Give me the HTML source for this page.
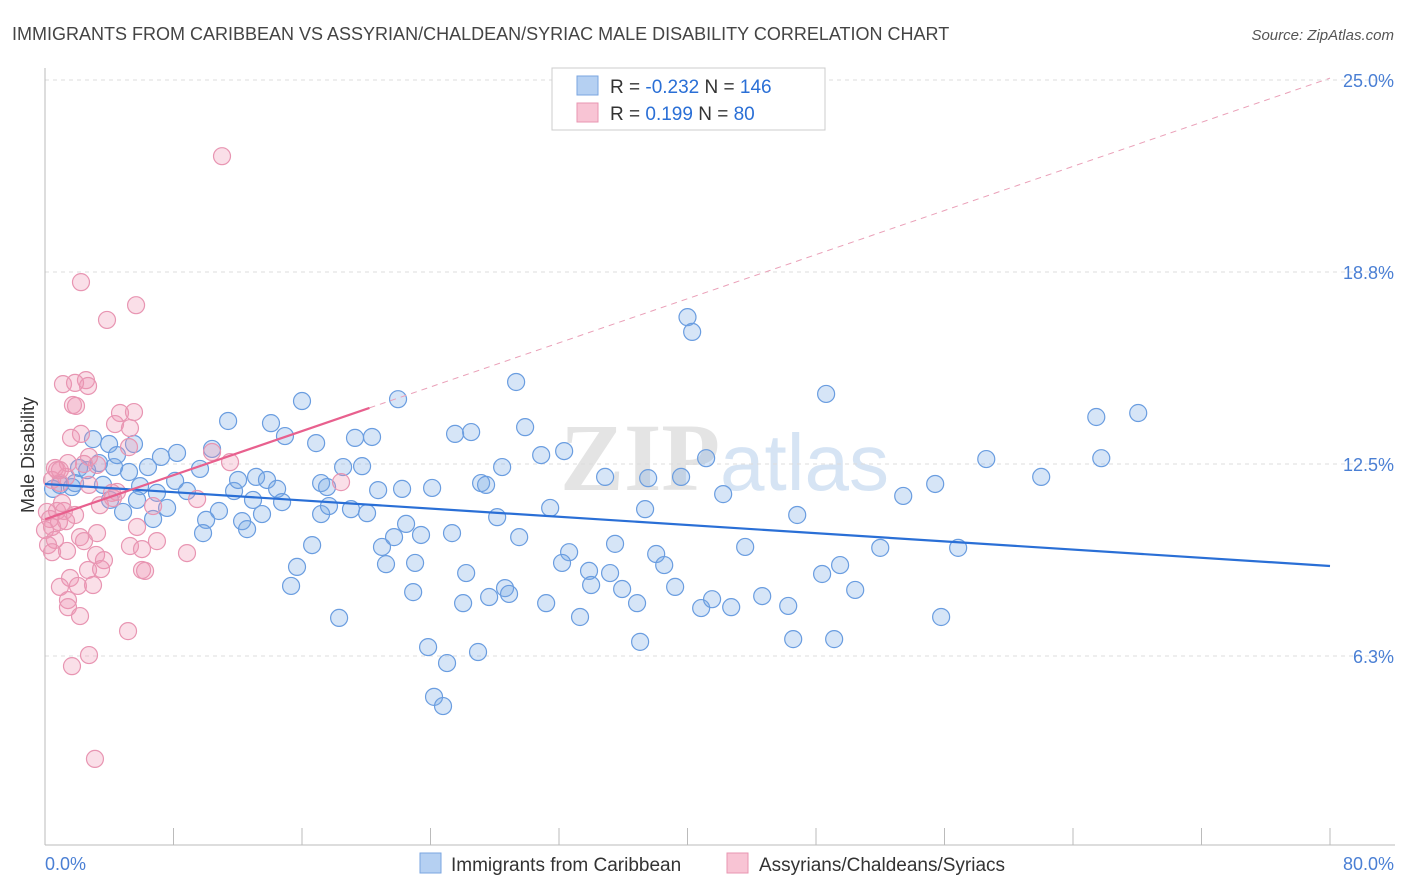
<!DOCTYPE html>
<html><head><meta charset="utf-8">
<style>
body{margin:0;background:#fff;font-family:"Liberation Sans",sans-serif;}
#wrap{position:relative;width:1406px;height:892px;overflow:hidden;}
</style></head>
<body>
<div id="wrap">
<svg id="chart" width="1406" height="892" xmlns="http://www.w3.org/2000/svg">
<text x="12" y="40" font-size="18" fill="#444">IMMIGRANTS FROM CARIBBEAN VS ASSYRIAN/CHALDEAN/SYRIAC MALE DISABILITY CORRELATION CHART</text>
<text x="1394" y="40" font-size="15" fill="#555" text-anchor="end" font-style="italic">Source: ZipAtlas.com</text>
<text x="720" y="490" font-size="96" fill="#e4e4e4" text-anchor="end" font-family="Liberation Serif" font-weight="bold">ZIP</text>
<text x="720" y="490" font-size="80" fill="#d6e4f4">atlas</text>
<g id="grid"></g>
<g id="axes"></g>
<g id="pts"></g>
<g id="lines"></g>
<text x="34" y="455" font-size="18" fill="#333" text-anchor="middle" transform="rotate(-90 34 455)">Male Disability</text>
<text x="45" y="870" font-size="18" fill="#4a7fd4">0.0%</text>
<text x="1394" y="870" font-size="18" fill="#4a7fd4" text-anchor="end">80.0%</text>
<g>
<rect x="552" y="68" width="273" height="62" fill="#fff" stroke="#ccc"/>
<rect x="577" y="76" width="21" height="19" fill="#b5d0f2" stroke="#7aa6e0"/>
<rect x="577" y="103" width="21" height="19" fill="#f8c4d4" stroke="#e896b2"/>
<text x="610" y="93" font-size="19" fill="#333">R = <tspan fill="#2a6fd6">-0.232</tspan>   N = <tspan fill="#2a6fd6">146</tspan></text>
<text x="610" y="120" font-size="19" fill="#333">R =   <tspan fill="#2a6fd6">0.199</tspan>   N =  <tspan fill="#2a6fd6">80</tspan></text>
</g>
<g>
<rect x="420" y="853" width="21" height="20" fill="#b5d0f2" stroke="#7aa6e0"/>
<text x="451" y="871" font-size="19" fill="#333">Immigrants from Caribbean</text>
<rect x="727" y="853" width="21" height="20" fill="#f8c4d4" stroke="#e896b2"/>
<text x="759" y="871" font-size="19" fill="#333">Assyrians/Chaldeans/Syriacs</text>
</g>
</svg>
</div>
<script>
const yTicks=[6.25,12.5,18.75,25];
const yTickLabels=["6.3%","12.5%","18.8%","25.0%"];
const xTicks=[0,8,16,24,32,40,48,56,64,72,80];
const blueX=[40.0,40.29,29.33,48.63,21.98,65.45,68.06,16.0,11.4,14.07,29.89,25.53,26.53,14.94,16.88,19.3,20.36,10.4,2.99,3.99,5.54,8.22,7.22,30.89,32.32,28.46,34.87,37.55,39.6,41.16,58.6,65.76,62.02,55.42,53.43,42.22,27.15,27.46,24.1,22.23,20.74,18.56,19.74,17.19,17.56,11.77,13.14,13.82,14.45,12.02,9.65,8.1,8.84,6.41,5.23,4.3,3.36,4.48,2.12,2.62,1.87,0.93,0.5,1.68,3.61,5.92,6.97,4.05,4.86,7.6,6.73,5.73,10.83,10.03,9.84,12.27,12.58,13.51,12.95,14.76,17.19,17.68,19.05,20.05,22.48,20.98,21.73,23.41,25.34,28.15,29.52,31.45,37.36,46.83,32.63,32.19,35.49,38.05,38.55,43.59,49.5,52.0,56.85,48.38,16.63,15.69,15.32,21.23,23.04,26.22,33.87,35.18,35.93,34.0,28.64,28.89,27.65,22.92,26.03,31.2,33.31,36.86,39.23,40.85,41.53,42.72,44.65,46.27,50.44,55.79,18.31,23.85,25.03,26.96,46.58,49.13,37.05,24.22,24.78];
const blueY=[17.28,16.8,15.17,14.78,14.61,14.03,14.16,14.55,13.9,13.83,13.7,13.48,13.54,13.41,13.18,13.35,13.38,12.99,13.31,13.15,13.15,12.86,12.73,12.79,12.92,12.4,12.08,12.04,12.08,12.69,12.66,12.69,12.08,11.85,11.46,11.52,11.88,11.82,11.72,11.69,11.65,12.4,12.43,11.88,11.75,11.62,12.08,11.98,11.69,11.98,12.34,11.95,11.62,12.4,12.24,12.4,12.53,12.79,12.37,12.3,11.88,11.82,11.69,11.75,11.82,11.78,11.56,11.33,10.94,11.07,10.71,11.33,10.97,10.68,10.25,10.64,10.38,10.87,11.33,11.26,10.87,11.13,11.03,10.9,10.55,9.8,10.12,10.19,10.25,10.77,10.12,11.07,11.03,10.84,9.63,9.28,9.9,9.57,9.21,9.8,9.21,9.77,9.77,8.92,9.86,9.15,8.53,9.24,9.28,8.95,9.02,8.95,8.43,8.56,8.46,8.27,8.17,8.33,7.97,7.97,7.52,7.97,8.5,7.81,8.1,7.84,8.2,7.88,8.4,7.52,7.49,6.54,6.02,6.38,6.8,6.8,6.71,4.92,4.62];
const pinkX=[11.02,2.24,5.67,3.86,1.12,2.55,1.87,2.68,1.74,1.93,4.67,5.54,2.24,4.36,5.29,1.62,5.23,2.74,1.43,2.43,3.24,0.62,0.75,1.31,0.44,0.93,2.74,4.48,4.23,3.42,6.73,9.47,10.4,11.52,18.43,0.75,0.12,1.18,0.31,0.87,1.31,0.44,0.0,1.87,2.18,0.62,0.19,2.43,3.24,5.73,6.97,3.18,5.29,6.04,3.67,0.44,1.37,8.84,1.56,2.68,3.49,6.04,6.23,0.93,2.05,2.99,1.43,1.43,2.18,5.17,2.74,1.68,3.11,4.17,0.93,1.06];
const pinkY=[22.52,18.42,17.67,17.19,15.1,15.23,15.14,15.04,14.42,14.39,14.16,14.19,13.48,13.8,13.67,13.35,13.05,12.73,12.53,12.5,12.47,12.37,12.3,12.08,11.98,11.88,11.82,11.59,11.39,11.16,11.13,11.36,12.89,12.56,11.91,10.97,10.94,10.97,10.71,10.61,10.64,10.45,10.35,10.84,10.12,10.03,9.86,9.99,10.25,10.45,9.99,9.54,9.83,9.73,9.37,9.63,9.67,9.6,8.79,9.05,9.08,9.05,9.02,8.5,8.53,8.56,8.07,7.84,7.55,7.06,6.28,5.92,2.9,11.56,12.3,11.23];
const blueTrend=[11.85,9.18];   // y at x=0 and x=80
const pinkTrend=[10.7,25.06];   // y at x=0 and x=80
const pinkSolidEnd=20.2;        // x% where solid pink segment ends

const NS="http://www.w3.org/2000/svg";
const X0=45,X1=1330,Y0=848,PXY=30.72;
function sx(v){return X0+v*(X1-X0)/80;}
function sy(v){return Y0-v*PXY;}
function mk(tag,attrs,parent){const e=document.createElementNS(NS,tag);for(const k in attrs)e.setAttribute(k,attrs[k]);parent.appendChild(e);return e;}
const grid=document.getElementById('grid'),axes=document.getElementById('axes'),pts=document.getElementById('pts'),lines=document.getElementById('lines');
yTicks.forEach((t,i)=>{
 const l=mk('line',{x1:X0,x2:1395,y1:sy(t),y2:sy(t),stroke:'#ddd','stroke-dasharray':'4,4'},grid);
 
 
 const tx=mk('text',{x:1394,y:sy(t)+7,'font-size':18,fill:'#4a7fd4','text-anchor':'end'},grid);
 tx.textContent=yTickLabels[i];
 
 
});
const ya=mk('line',{x1:X0,x2:X0,y1:68,y2:845,stroke:'#bbb'},axes);


const xa=mk('line',{x1:X0,x2:1395,y1:845,y2:845,stroke:'#bbb'},axes);


xTicks.forEach(t=>{
 const l=mk('line',{x1:sx(t),x2:sx(t),y1:828,y2:845,stroke:'#bbb'},axes);
 
 
});
blueX.forEach((x,i)=>{
 const c=mk('circle',{cx:sx(x),cy:sy(blueY[i]),r:8.5,fill:'rgba(120,170,230,0.3)',stroke:'#6a9de0','stroke-width':1.2},pts);
 
 
});
pinkX.forEach((x,i)=>{
 const c=mk('circle',{cx:sx(x),cy:sy(pinkY[i]),r:8.5,fill:'rgba(240,150,180,0.3)',stroke:'#e895b2','stroke-width':1.2},pts);
 
 
});
const bl=mk('line',{x1:sx(0),y1:sy(blueTrend[0]),x2:sx(80),y2:sy(blueTrend[1]),stroke:'#2a6fd6','stroke-width':2.2},lines);


const pAt=x=>pinkTrend[0]+(pinkTrend[1]-pinkTrend[0])*x/80;
const pd=mk('line',{x1:sx(pinkSolidEnd),y1:sy(pAt(pinkSolidEnd)),x2:sx(80),y2:sy(pinkTrend[1]),stroke:'#eaa0b8','stroke-width':1,'stroke-dasharray':'6,5'},lines);


const ps=mk('line',{x1:sx(0),y1:sy(pinkTrend[0]),x2:sx(pinkSolidEnd),y2:sy(pAt(pinkSolidEnd)),stroke:'#e8608e','stroke-width':2.2},lines);


</script>
</body></html>
